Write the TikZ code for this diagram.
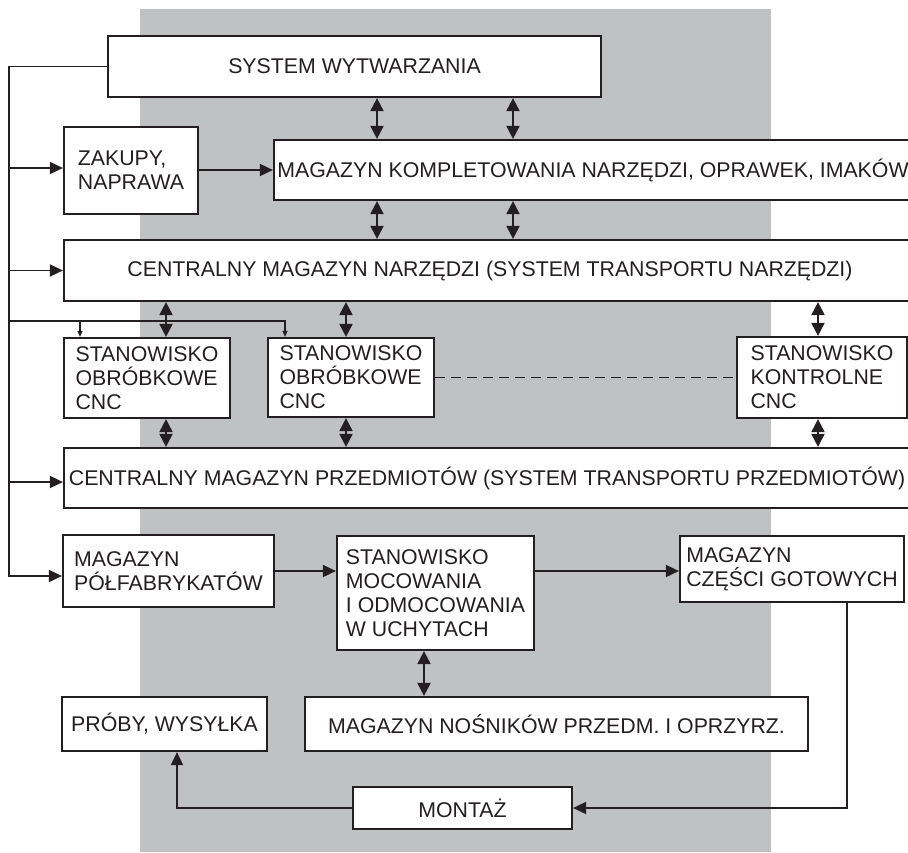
\documentclass[tikz,border=0pt]{standalone}
\usepackage{fontspec}
\setmainfont{Liberation Sans}
\usetikzlibrary{arrows.meta,calc}
\definecolor{bg}{HTML}{C0C1C3}
\definecolor{ink}{HTML}{231F20}
\begin{document}
\begin{tikzpicture}[x=1pt,y=-1pt,
  box/.style={draw=ink, line width=2.2pt, fill=white, inner sep=0pt, text=ink,
    font=\fontsize{21.3}{24}\selectfont, align=left},
  line/.style={draw=ink, line width=1.8pt},
  arr/.style={line, -{Triangle[length=13pt,width=12pt]}},
  darr/.style={draw=ink, line width=2pt, {Triangle[length=13pt,width=13pt]}-{Triangle[length=13pt,width=13pt]}},
  tarr/.style={draw=ink, line width=1.2pt, -{Triangle[length=6pt,width=5pt]}}]
\useasboundingbox (0,0) rectangle (908,852);
\fill[bg] (140,9) rectangle (771,852);
% boxes
\node[box, minimum width=493pt, minimum height=61pt] (sys) at (354.5,66.5) {SYSTEM WYTWARZANIA};
\node[box, minimum width=134pt, minimum height=87pt] (zak) at (131,170.5) {ZAKUPY,\\NAPRAWA};
\node[box, minimum width=638pt, minimum height=60pt] (kom) at (593,170) {MAGAZYN KOMPLETOWANIA NARZĘDZI, OPRAWEK, IMAKÓW};
\node[box, minimum width=852pt, minimum height=61pt] (cmn) at (490,270.5) {CENTRALNY MAGAZYN NARZĘDZI (SYSTEM TRANSPORTU NARZĘDZI)};
\node[box, minimum width=166pt, minimum height=80pt] (st1) at (147,378) {STANOWISKO\\OBRÓBKOWE\\CNC};
\node[box, minimum width=166pt, minimum height=79pt] (st2) at (351,377.5) {STANOWISKO\\OBRÓBKOWE\\CNC};
\node[box, minimum width=170pt, minimum height=81pt] (stk) at (822,377.5) {STANOWISKO\\KONTROLNE\\CNC};
\node[box, minimum width=846pt, minimum height=60pt] (cmp) at (487,478) {CENTRALNY MAGAZYN PRZEDMIOTÓW (SYSTEM TRANSPORTU PRZEDMIOTÓW)};
\node[box, minimum width=211pt, minimum height=72pt] (pol) at (168.5,571) {MAGAZYN\\PÓŁFABRYKATÓW};
\node[box, minimum width=197pt, minimum height=114pt] (moc) at (435.5,593) {STANOWISKO\\MOCOWANIA\\I ODMOCOWANIA\\W UCHYTACH};
\node[box, minimum width=224pt, minimum height=66pt] (got) at (792,569) {MAGAZYN\\CZĘŚCI GOTOWYCH};
\node[box, minimum width=205pt, minimum height=54pt] (pro) at (164.5,724) {PRÓBY, WYSYŁKA};
\node[box, minimum width=503pt, minimum height=54pt] (nos) at (556.5,724) {MAGAZYN NOŚNIKÓW PRZEDM. I OPRZYRZ.};
\node[box, minimum width=219pt, minimum height=42pt] (mon) at (462.5,808) {MONTAŻ};
% helper coordinates
\coordinate (bus) at (9,0);
\coordinate (br) at (9,321);
\coordinate (a1) at (377,0);
\coordinate (a2) at (513,0);
\coordinate (b1) at (166,0);
\coordinate (b2) at (346,0);
\coordinate (b3) at (818,0);
\coordinate (t1) at (80,0);
\coordinate (t2) at (285,0);
\coordinate (mx) at (424,0);
\coordinate (gx) at (847,0);
\coordinate (px) at (177,0);
\coordinate (zw) at ([yshift=2.5pt]zak.west);
\coordinate (cw) at ([yshift=-4pt]cmp.west);
\coordinate (pw) at ([yshift=-5pt]pol.west);
% left bus
\draw[arr] (sys.west) -| (bus |- pw) -- (pw);
\draw[arr] (bus |- zw) -- (zw);
\draw[arr] (bus |- cmn.west) -- (cmn.west);
\draw[arr] (bus |- cw) -- (cw);
\draw[tarr] (br) -| (t2 |- st2.north);
\draw[tarr] (t1 |- br) -- (t1 |- st1.north);
% flows
\draw[arr] (zak.east |- kom.west) -- (kom.west);
\draw[darr] (a1 |- sys.south) -- (a1 |- kom.north);
\draw[darr] (a2 |- sys.south) -- (a2 |- kom.north);
\draw[darr] (a1 |- kom.south) -- (a1 |- cmn.north);
\draw[darr] (a2 |- kom.south) -- (a2 |- cmn.north);
\draw[darr] (b1 |- cmn.south) -- (b1 |- st1.north);
\draw[darr] (b2 |- cmn.south) -- (b2 |- st2.north);
\draw[darr] (b3 |- cmn.south) -- (b3 |- stk.north);
\draw[darr] (b1 |- st1.south) -- (b1 |- cmp.north);
\draw[darr] (b2 |- st2.south) -- (b2 |- cmp.north);
\draw[darr] (b3 |- stk.south) -- (b3 |- cmp.north);
\draw[line, line width=1.6pt, dash pattern=on 10pt off 6pt] (st2.east) -- (stk.west);
\draw[arr] (pol.east) -- (pol.east -| moc.west);
\draw[arr] (moc.east |- pol.east) -- (got.west |- pol.east);
\draw[darr] (mx |- moc.south) -- (mx |- nos.north);
\draw[arr] (gx |- got.south) |- (mon.east);
\draw[arr] (mon.west) -| (px |- pro.south);
\end{tikzpicture}
\end{document}
